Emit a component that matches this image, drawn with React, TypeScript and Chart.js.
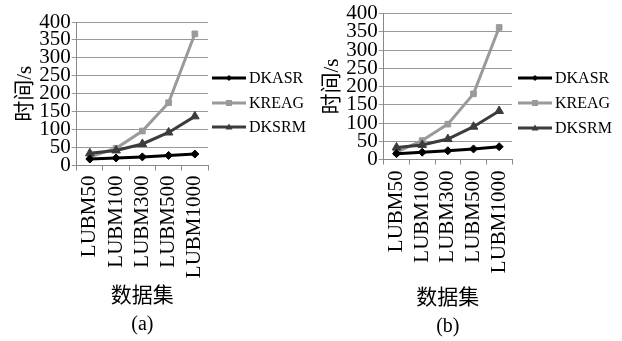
import React, { useEffect, useRef } from "react";
import { Chart, registerables } from "chart.js";

Chart.register(...registerables);

const categories = ["LUBM50", "LUBM100", "LUBM300", "LUBM500", "LUBM1000"];
const seriesNames = ["DKASR", "KREAG", "DKSRM"];

const dkasrA = [18, 21, 24, 28, 32];
const kreagA = [24, 48, 96, 175, 367];
const dksrmA = [34, 42, 60, 92, 137];

const dkasrB = [16, 20, 24, 29, 35];
const kreagB = [20, 52, 97, 180, 362];
const dksrmB = [33, 40, 56, 90, 133];

const yTicks = [0, 50, 100, 150, 200, 250, 300, 350, 400];

const SERIF = "'Liberation Serif', 'Times New Roman', 'Noto Sans CJK SC', serif";
const colors = ["#000000", "#9a9a9a", "#3c3c3c"];
const markers = ["rectRot", "rect", "triangle"];
const radii = [4, 4, 5];

function makeLegendPlugin(lineStart: number, ys: number[], label: string, labelY: number) {
  return {
    id: "customLegend",
    afterDraw(chart: any) {
      const ctx = chart.ctx;
      ctx.save();
      seriesNames.forEach((name, i) => {
        const y = ys[i];
        ctx.strokeStyle = colors[i];
        ctx.fillStyle = colors[i];
        ctx.lineWidth = 3;
        ctx.beginPath();
        ctx.moveTo(lineStart, y);
        ctx.lineTo(lineStart + 34, y);
        ctx.stroke();
        const cx = lineStart + 17;
        ctx.beginPath();
        if (i === 0) {
          ctx.moveTo(cx, y - 3);
          ctx.lineTo(cx + 3, y);
          ctx.lineTo(cx, y + 3);
          ctx.lineTo(cx - 3, y);
          ctx.closePath();
        } else if (i === 1) {
          ctx.rect(cx - 3, y - 3, 6, 6);
        } else {
          ctx.moveTo(cx, y - 3.5);
          ctx.lineTo(cx + 3.5, y + 2.5);
          ctx.lineTo(cx - 3.5, y + 2.5);
          ctx.closePath();
        }
        ctx.fill();
        ctx.font = "16px " + SERIF;
        ctx.textBaseline = "middle";
        ctx.textAlign = "left";
        ctx.fillStyle = "#000";
        ctx.fillText(name, lineStart + 37, y + 1);
      });
      const ca = chart.chartArea;
      ctx.font = "20px " + SERIF;
      ctx.textAlign = "center";
      ctx.textBaseline = "middle";
      ctx.fillStyle = "#000";
      ctx.fillText(label, (ca.left + ca.right) / 2, labelY);
      ctx.restore();
    },
  };
}

type PanelProps = {
  data: number[][];
  label: string;
  padding: { left: number; right: number; top: number; bottom: number };
  legendX: number;
  legendYs: number[];
  labelY: number;
  tickPad: number;
};

function Panel({ data, label, padding, legendX, legendYs, labelY, tickPad }: PanelProps) {
  const ref = useRef<HTMLCanvasElement>(null);
  useEffect(() => {
    if (!ref.current) return;
    const chart = new Chart(ref.current, {
      type: "line",
      data: {
        labels: categories,
        datasets: seriesNames.map((name, i) => ({
          label: name,
          data: data[i],
          borderColor: colors[i],
          backgroundColor: colors[i],
          borderWidth: 3,
          pointStyle: markers[i] as any,
          pointRadius: radii[i],
          pointBorderWidth: 1,
          tension: 0,
          order: i === 0 ? 0 : i === 2 ? 1 : 2,
        })),
      },
      options: {
        responsive: false,
        animation: false,
        layout: { padding },
        plugins: {
          legend: { display: false },
          tooltip: { enabled: false },
          title: { display: false },
        },
        scales: {
          x: {
            offset: true,
            grid: {
              display: true,
              drawOnChartArea: false,
              offset: true,
              tickLength: 5,
              color: "#888",
            },
            border: { display: true, color: "#888", width: 1 },
            ticks: {
              color: "#000",
              font: { family: SERIF, size: 21 },
              maxRotation: 90,
              minRotation: 90,
              autoSkip: false,
              padding: tickPad,
            },
            title: {
              display: true,
              text: "数据集",
              color: "#000",
              font: { family: SERIF, size: 21 },
              padding: { top: 8, bottom: 0 },
            },
          },
          y: {
            min: 0,
            max: 400,
            afterBuildTicks: (axis: any) => {
              axis.ticks = yTicks.map((v) => ({ value: v }));
            },
            grid: {
              color: "#999",
              tickLength: 5,
              lineWidth: 1,
            },
            border: { display: true, color: "#888", width: 1 },
            ticks: {
              color: "#000",
              font: { family: SERIF, size: 21 },
              autoSkip: false,
              padding: 1,
            },
            title: {
              display: true,
              text: "时间/s",
              color: "#000",
              font: { family: SERIF, size: 21 },
              padding: { top: 0, bottom: 0 },
            },
          },
        },
      },
      plugins: [makeLegendPlugin(legendX, legendYs, label, labelY)],
    } as any);
    return () => chart.destroy();
  }, []);
  return <canvas ref={ref} width={311} height={341} style={{ display: "block" }} />;
}

export default function App() {
  return (
    <div
      style={{
        position: "absolute",
        left: 0,
        top: 0,
        width: 622,
        height: 341,
        display: "flex",
        background: "#fff",
      }}
    >
      <Panel
        data={[dkasrA, kreagA, dksrmA]}
        label="(a)"
        padding={{ left: 13, right: 103, top: 22, bottom: 32 }}
        legendX={212}
        legendYs={[78, 103, 127]}
        labelY={325}
        tickPad={5}
      />
      <Panel
        data={[dkasrB, kreagB, dksrmB]}
        label="(b)"
        padding={{ left: 9, right: 110, top: 8, bottom: 30 }}
        legendX={207}
        legendYs={[78, 103, 128]}
        labelY={327}
        tickPad={6}
      />
    </div>
  );
}
